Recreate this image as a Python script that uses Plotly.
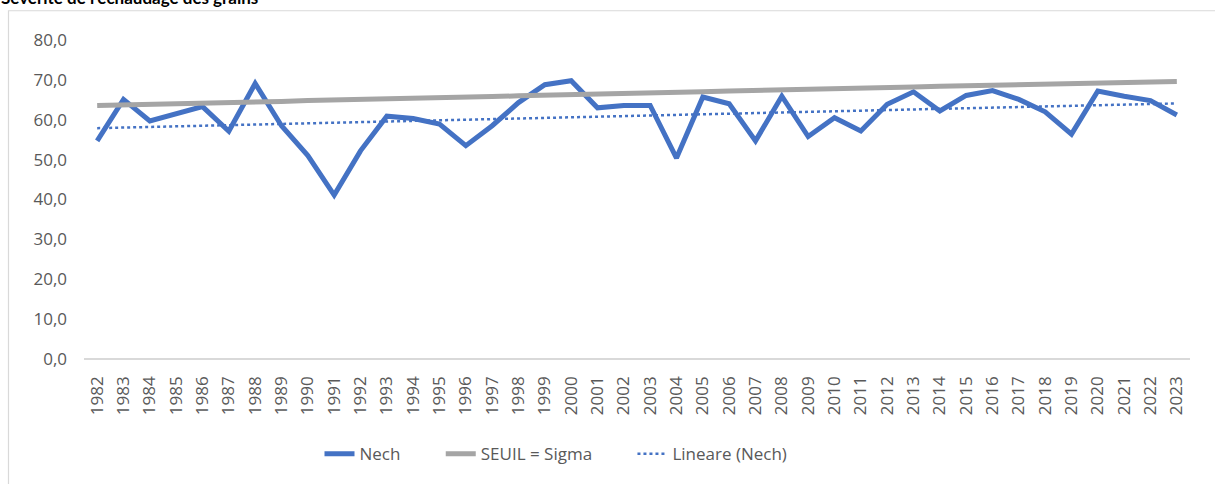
import numpy as np
import plotly.graph_objects as go

years = list(range(1982, 2024))
nech = [54.7, 65.1, 59.7, 61.4, 63.3, 57.1, 69.1, 58.5, 51.0, 41.1,
        52.2, 60.9, 60.3, 58.9, 53.5, 58.5, 64.3, 68.8, 69.8, 63.0,
        63.6, 63.6, 50.4, 65.7, 64.0, 54.7, 65.9, 55.8, 60.5, 57.2,
        63.9, 67.0, 62.2, 66.1, 67.3, 65.1, 62.0, 56.4, 67.2, 65.9,
        64.8, 61.2]
seuil = [63.6, 63.7, 63.9, 64.0, 64.2, 64.3, 64.5, 64.6, 64.8, 64.9,
         65.1, 65.2, 65.4, 65.5, 65.7, 65.8, 66.0, 66.1, 66.3, 66.4,
         66.6, 66.7, 66.9, 67.0, 67.2, 67.3, 67.5, 67.6, 67.8, 67.9,
         68.1, 68.2, 68.4, 68.5, 68.7, 68.8, 69.0, 69.1, 69.3, 69.4,
         69.5, 69.6]
title_text = "Sévérité de l'échaudage des grains"
y_ticks = [0, 10, 20, 30, 40, 50, 60, 70, 80]
series_names = ["Nech", "SEUIL = Sigma", "Lineare (Nech)"]

# Linear trendline (Excel "Lineare") fitted on Nech
coef = np.polyfit(years, nech, 1)
trend = list(np.polyval(coef, years))

FONT = "Open Sans"
PAD = "\u00a0" * 8
fig = go.Figure()
fig.add_trace(go.Scatter(x=years, y=nech, mode="lines", name=series_names[0] + PAD,
                         line=dict(color="#4472C4", width=5)))
fig.add_trace(go.Scatter(x=years, y=seuil, mode="lines", name=series_names[1] + PAD,
                         line=dict(color="#A5A5A5", width=5)))
fig.add_trace(go.Scatter(x=years, y=trend, mode="lines", name=series_names[2],
                         line=dict(color="#4472C4", width=2.5, dash="dot")))

L, R, T, B = 84, 25, 40, 122
W, H = 1215, 484
pw, ph = W - L - R, H - T - B

def px2x(px):
    return (px - L) / pw

def py2y(py):
    return (H - B - py) / ph

fig.update_layout(
    width=W, height=H,
    margin=dict(l=L, r=R, t=T, b=B),
    paper_bgcolor="white", plot_bgcolor="white",
    separators=", ",
    font=dict(family=FONT, size=17, color="#595959"),
    showlegend=True,
    legend=dict(orientation="h", xanchor="center", yanchor="middle",
                x=px2x(556), y=py2y(458), font=dict(size=17, color="#595959"),
                tracegroupgap=0),
    xaxis=dict(range=[1981.5, 2023.5], tickmode="array", tickvals=years,
               ticktext=[str(y) for y in years], tickangle=-90,
               showgrid=False, zeroline=False, showline=False,
               ticks="", ticklabelstandoff=13,
               tickfont=dict(size=17, color="#595959")),
    yaxis=dict(range=[0, 80], tickmode="array", tickvals=y_ticks,
               tickformat=".1f", showgrid=False, zeroline=True,
               zerolinecolor="#D9D9D9", zerolinewidth=1.5, showline=False,
               ticks="", ticklabelstandoff=16,
               tickfont=dict(size=17, color="#595959")),
    shapes=[dict(type="rect", xref="paper", yref="paper",
                 x0=px2x(8.5), x1=px2x(1220), y0=py2y(490), y1=py2y(10.5),
                 line=dict(color="#D9D9D9", width=1.2), fillcolor="rgba(0,0,0,0)",
                 layer="below")],
    annotations=[dict(text="<b>" + title_text + "</b>", xref="paper", yref="paper",
                      x=px2x(-1), y=py2y(10), xanchor="left", yanchor="bottom",
                      showarrow=False, font=dict(family="Lato", size=17, color="black"))],
)

fig.write_html("out.html", config={"displayModeBar": False},
               post_script="document.body.style.margin='0px';")
